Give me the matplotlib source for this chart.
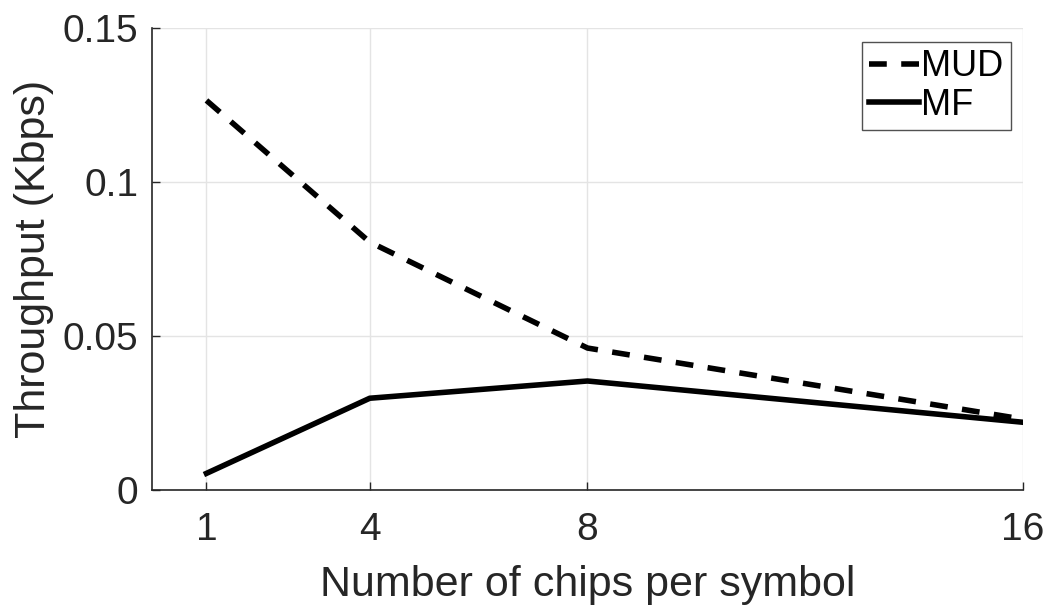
import matplotlib
matplotlib.use("Agg")
import matplotlib.pyplot as plt

chips = [1, 4, 8, 16]
mud = [0.1265, 0.0805, 0.0461, 0.0230]
mf = [0.0054, 0.0298, 0.0354, 0.0220]
x_ticks = [1, 4, 8, 16]
y_ticks = [0, 0.05, 0.1, 0.15]
y_tick_labels = ["0", "0.05", "0.1", "0.15"]

plt.rcParams["font.family"] = ["Liberation Sans", "DejaVu Sans"]

fig = plt.figure(figsize=(10.52, 6.10), dpi=100)
ax = fig.add_axes([0.1445, 0.1967, 0.8279, 0.7573])

ax.plot(chips, mud, color="black", linewidth=4, linestyle=(0, (3.2, 2.6)), label="MUD")
ax.plot(chips, mf, color="black", linewidth=4, linestyle="-", label="MF")

ax.set_xlim(0, 16)
ax.set_ylim(0, 0.15)
ax.set_xticks(x_ticks)
ax.set_yticks(y_ticks)
ax.set_yticklabels(y_tick_labels)
ax.tick_params(axis="both", labelsize=28, colors="#262626", direction="in",
               length=6, width=1)
ax.tick_params(axis="x", pad=16)
ax.tick_params(axis="y", pad=10)
ax.grid(True, color="#e4e4e4", linewidth=1)
ax.set_axisbelow(True)

for side in ("top", "right"):
    ax.spines[side].set_visible(False)
for side in ("left", "bottom"):
    ax.spines[side].set_color("#262626")
    ax.spines[side].set_linewidth(1.2)

ax.set_xlabel("Number of chips per symbol", fontsize=31, color="#262626", labelpad=12)
ax.set_ylabel("Throughput (Kbps)", fontsize=31, color="#262626", labelpad=6)

leg = ax.legend(loc="upper right", bbox_to_anchor=(0.986, 0.97), fontsize=26,
                frameon=True, fancybox=False, edgecolor="#262626",
                handlelength=1.4, handletextpad=0.05, borderpad=0.2,
                labelspacing=0.1, borderaxespad=0.0)
leg.get_frame().set_linewidth(1.0)
for t in leg.get_texts():
    t.set_color("black")

fig.savefig("out.png", dpi=100, facecolor="white")
